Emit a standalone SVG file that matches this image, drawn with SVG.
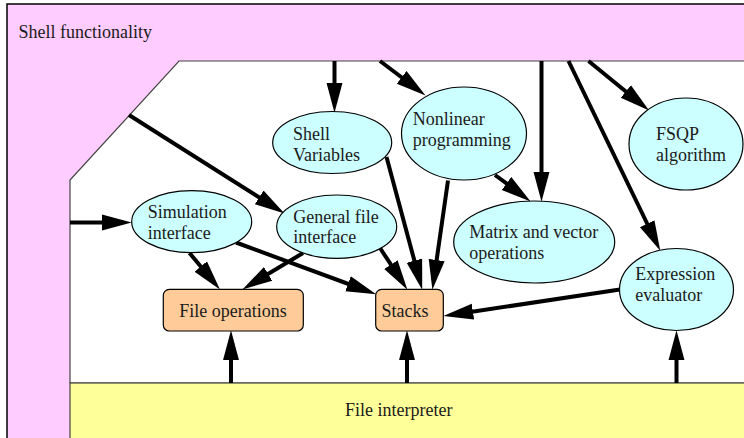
<svg xmlns="http://www.w3.org/2000/svg" width="744" height="438" viewBox="0 0 744 438">
  <style>
    .module { fill: #ccffff; stroke: #000; stroke-width: 1.2; }
    .core { fill: #ffcc99; stroke: #000; stroke-width: 1.2; }
    .edge { stroke: #000; stroke-width: 4; fill: none; marker-end: url(#head); }
  </style>
  <defs>
    <marker id="head" markerUnits="userSpaceOnUse" markerWidth="30" markerHeight="18" viewBox="0 -8 28 16" refX="18" refY="0" orient="auto">
      <polygon points="0,-7.5 28,0 0,7.5" fill="#000"/>
    </marker>
  </defs>

  <g font-family="'Liberation Serif', 'Times New Roman', Times, serif" font-size="18" fill="#1a1a1a">
  <!-- Shell frame with the open working area cut out of it -->
  <g id="shell">
    <rect x="7" y="4" width="745" height="440" fill="#ffccff" stroke="#000" stroke-width="1.5"/>
    <polygon points="179,61 752,61 752,383 70,383 70,180" fill="#fff" stroke="#444" stroke-width="1.2"/>
    <text x="18.5" y="37.5">Shell functionality</text>
  </g>

  <g id="interpreter">
    <rect x="70" y="383" width="682" height="60" fill="#ffff99" stroke="#444" stroke-width="1.2"/>
    <text x="345" y="416">File interpreter</text>
  </g>

  <g id="connectors">
    <line class="edge" x1="334.5" y1="61" x2="334.5" y2="102"/>
    <line class="edge" x1="380" y1="61" x2="417" y2="89"/>
    <line class="edge" x1="541.5" y1="61" x2="541.5" y2="191"/>
    <line class="edge" x1="568.5" y1="61" x2="655.6" y2="241"/>
    <line class="edge" x1="588.5" y1="61" x2="640.8" y2="103.7"/>
    <line class="edge" x1="129" y1="115" x2="275.5" y2="207.7"/>
    <line class="edge" x1="70" y1="222.5" x2="121" y2="222.5"/>
    <line class="edge" x1="189.5" y1="253" x2="213.1" y2="281.3"/>
    <line class="edge" x1="303" y1="253" x2="251.6" y2="283.9"/>
    <line class="edge" x1="236" y1="242.5" x2="366.1" y2="290.5"/>
    <line class="edge" x1="380" y1="248" x2="401.5" y2="280.7"/>
    <line class="edge" x1="386.5" y1="157" x2="419.4" y2="279.3"/>
    <line class="edge" x1="448" y1="180.5" x2="433.9" y2="279.1"/>
    <line class="edge" x1="495" y1="175" x2="522" y2="195"/>
    <line class="edge" x1="620" y1="289.5" x2="453.9" y2="314.5"/>
    <line class="edge" x1="231" y1="383" x2="231" y2="341"/>
    <line class="edge" x1="407" y1="383" x2="407" y2="341"/>
    <line class="edge" x1="676.5" y1="383" x2="676.5" y2="341"/>
  </g>

  <g id="shell-variables">
    <ellipse class="module" cx="332.2" cy="142.5" rx="59.5" ry="31"/>
    <text><tspan x="293" y="140">Shell</tspan><tspan x="293" y="160.7">Variables</tspan></text>
  </g>

  <g id="nonlinear-programming">
    <ellipse class="module" cx="464" cy="133.5" rx="62.5" ry="46.5"/>
    <text><tspan x="412.7" y="125">Nonlinear</tspan><tspan x="412.7" y="145.7">programming</tspan></text>
  </g>

  <g id="fsqp">
    <ellipse class="module" cx="686" cy="144" rx="57" ry="46"/>
    <text><tspan x="656" y="140">FSQP</tspan><tspan x="656" y="160.7">algorithm</tspan></text>
  </g>

  <g id="simulation-interface">
    <ellipse class="module" cx="191.7" cy="221.7" rx="60" ry="31"/>
    <text><tspan x="147.7" y="218.3">Simulation</tspan><tspan x="147.7" y="239">interface</tspan></text>
  </g>

  <g id="general-file-interface">
    <ellipse class="module" cx="336.7" cy="226.7" rx="60" ry="31.7"/>
    <text><tspan x="293.3" y="222.7">General file</tspan><tspan x="293.3" y="243.3">interface</tspan></text>
  </g>

  <g id="matrix-vector">
    <ellipse class="module" cx="534.2" cy="242" rx="80.5" ry="41"/>
    <text><tspan x="469.3" y="238.3">Matrix and vector</tspan><tspan x="469.3" y="259">operations</tspan></text>
  </g>

  <g id="expression-evaluator">
    <ellipse class="module" cx="676.5" cy="289.5" rx="57" ry="41"/>
    <text><tspan x="635.3" y="280">Expression</tspan><tspan x="635.3" y="300.7">evaluator</tspan></text>
  </g>

  <g id="file-operations">
    <rect class="core" x="163.3" y="289.3" width="140" height="41.7" rx="6"/>
    <text x="179.3" y="316.7">File operations</text>
  </g>

  <g id="stacks">
    <rect class="core" x="375.7" y="289.3" width="67.6" height="41.7" rx="6"/>
    <text x="381.5" y="316.7">Stacks</text>
  </g>
  </g>
</svg>
